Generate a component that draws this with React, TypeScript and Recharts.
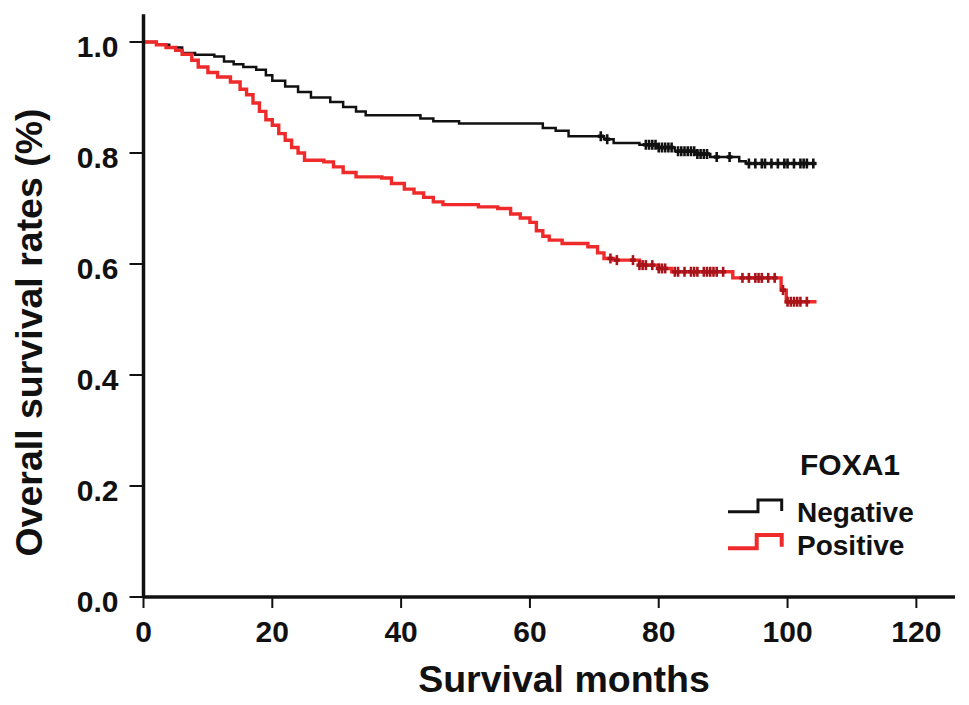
import React from 'react';
import { ComposedChart, Line, Scatter, XAxis, YAxis, Legend, Customized } from 'recharts';

const negTimes = [0, 2, 4, 6, 8, 11, 12.5, 14, 15.5, 17.5, 19, 20, 22, 24, 26, 29, 31, 33, 34.5, 43, 45, 49, 62, 64, 66, 71.5, 73, 77, 80, 82.5, 86, 88, 92.5, 93.5, 104.5];
const negSurv = [1.0, 0.995, 0.99, 0.98, 0.977, 0.974, 0.965, 0.96, 0.955, 0.95, 0.94, 0.93, 0.92, 0.91, 0.9, 0.892, 0.883, 0.875, 0.868, 0.862, 0.857, 0.853, 0.845, 0.84, 0.83, 0.825, 0.818, 0.815, 0.81, 0.803, 0.798, 0.793, 0.785, 0.781, 0.781];

const posTimes = [0, 2, 3.5, 5, 6, 7.5, 8.5, 10, 11.5, 13.5, 15, 16, 17, 18, 19, 20, 21, 22, 23, 24, 25, 28, 29.5, 31, 33, 37, 38.5, 40.5, 42, 43.5, 45, 46.5, 52, 55, 57, 58.5, 60, 61, 62, 63, 65, 69, 70.5, 71.5, 73, 77, 80, 82, 91.5, 99, 99.8, 104.5];
const posSurv = [1.0, 0.995, 0.99, 0.985, 0.978, 0.967, 0.955, 0.945, 0.937, 0.928, 0.915, 0.905, 0.89, 0.875, 0.86, 0.85, 0.835, 0.823, 0.81, 0.8, 0.787, 0.784, 0.775, 0.765, 0.757, 0.755, 0.745, 0.735, 0.728, 0.72, 0.712, 0.707, 0.703, 0.7, 0.69, 0.683, 0.675, 0.66, 0.65, 0.643, 0.637, 0.631, 0.62, 0.61, 0.607, 0.598, 0.592, 0.586, 0.575, 0.553, 0.532, 0.532];

const negCensor = [71, 72, 78, 78.5, 79, 79.5, 80, 80.5, 81, 81.5, 82, 83, 83.5, 84, 84.5, 85, 85.5, 86, 86.5, 87, 87.5, 89, 91, 94, 95, 96, 96.5, 97.5, 98.5, 99.5, 100, 101, 102, 102.5, 103, 104];
const posCensor = [72.5, 73.5, 76, 77, 77.5, 78, 79, 80, 80.5, 81, 82.5, 83, 84, 85, 85.5, 86, 87, 87.5, 88, 88.5, 89, 90, 93, 94, 95, 95.5, 96, 97, 98, 99.3, 100, 100.5, 101, 101.5, 102, 103];

const xTicks = [0, 20, 40, 60, 80, 100, 120];
const yTicks = [0, 0.2, 0.4, 0.6, 0.8, 1.0];

const seriesNames = ['Negative', 'Positive'];
const legendTitle = 'FOXA1';
const xTitle = 'Survival months';
const yTitle = 'Overall survival rates (%)';

const FONT = '"Liberation Sans", Arial, Helvetica, sans-serif';
const NEG_COLOR = '#111111';
const POS_COLOR = '#ee2a2a';
const POS_CENSOR = '#a8141a';

function stepAt(times: number[], surv: number[], t: number): number {
  let v = surv[0];
  for (let i = 0; i < times.length; i++) {
    if (times[i] <= t) v = surv[i];
  }
  return v;
}

const negData = negTimes.map((t, i) => ({ t, s: negSurv[i] }));
const posData = posTimes.map((t, i) => ({ t, s: posSurv[i] }));
const negCensorData = negCensor.map((t) => ({ t, s: stepAt(negTimes, negSurv, t) }));
const posCensorData = posCensor.map((t) => ({ t, s: stepAt(posTimes, posSurv, t) }));

const censorShape = (color: string) => (props: any) => {
  const { cx, cy } = props;
  if (cx == null || cy == null) return <g />;
  return (
    <g>
      <line x1={cx} x2={cx} y1={cy - 5} y2={cy + 5} stroke={color} strokeWidth={2.6} />
      <line x1={cx - 3} x2={cx + 3} y1={cy} y2={cy} stroke={color} strokeWidth={3.5} />
    </g>
  );
};

const XTick = (props: any) => {
  const { x, y, payload } = props;
  return (
    <text x={x} y={y + 21.5} textAnchor="middle" fontFamily={FONT} fontWeight="bold" fontSize={30} fill="#111">
      {payload.value}
    </text>
  );
};

const YTick = (props: any) => {
  const { x, y, payload } = props;
  return (
    <text x={x} y={y + 15} textAnchor="end" fontFamily={FONT} fontWeight="bold" fontSize={30} fill="#111">
      {Number(payload.value).toFixed(1)}
    </text>
  );
};

const Titles = () => (
  <g>
    <text x={564} y={691.5} textAnchor="middle" fontFamily={FONT} fontWeight="bold" fontSize={37.5} fill="#111">
      {xTitle}
    </text>
    <text
      x={0}
      y={0}
      transform="translate(42,332.5) rotate(-90)"
      textAnchor="middle"
      fontFamily={FONT}
      fontWeight="bold"
      fontSize={37.5}
      fill="#111"
    >
      {yTitle}
    </text>
  </g>
);

const LegendContent = () => (
  <svg width={220} height={130} style={{ display: 'block', overflow: 'visible' }}>
    <text x={80} y={35} fontFamily={FONT} fontWeight="bold" fontSize={30} fill="#111">
      {legendTitle}
    </text>
    <polyline
      points="8,71.7 38,71.7 38,60 61.7,60 61.7,71"
      fill="none"
      stroke={NEG_COLOR}
      strokeWidth={3}
    />
    <text x={77} y={81.5} fontFamily={FONT} fontWeight="bold" fontSize={28} fill="#111">
      {seriesNames[0]}
    </text>
    <polyline
      points="8,108.3 36.7,108.3 36.7,95 61.7,95 61.7,106.7"
      fill="none"
      stroke={POS_COLOR}
      strokeWidth={4}
    />
    <text x={77} y={115} fontFamily={FONT} fontWeight="bold" fontSize={28} fill="#111">
      {seriesNames[1]}
    </text>
  </svg>
);

export default function App() {
  return (
    <div style={{ position: 'absolute', left: 0, top: 0, width: 969, height: 705, background: '#fff' }}>
      <ComposedChart
        width={969}
        height={705}
        margin={{ top: 14.25, right: 14, bottom: 48, left: 43.5 }}
      >
        <XAxis
          type="number"
          dataKey="t"
          domain={[0, 126]}
          ticks={xTicks}
          allowDataOverflow
          height={60}
          stroke="#111"
          axisLine={{ stroke: '#111', strokeWidth: 3.5 }}
          tickLine={{ stroke: '#111', strokeWidth: 2 }}
          tickSize={11}
          tickMargin={12}
          tick={<XTick />}
          interval={0}
        />
        <YAxis
          type="number"
          dataKey="s"
          domain={[0, 1.05]}
          ticks={yTicks}
          allowDataOverflow
          width={100}
          stroke="#111"
          axisLine={{ stroke: '#111', strokeWidth: 3.5 }}
          tickLine={{ stroke: '#111', strokeWidth: 2 }}
          tickSize={14}
          tickMargin={11}
          tick={<YTick />}
          interval={0}
        />
        <Line
          data={negData}
          dataKey="s"
          type="stepAfter"
          stroke={NEG_COLOR}
          strokeWidth={2.5}
          dot={false}
          activeDot={false}
          isAnimationActive={false}
          name={seriesNames[0]}
        />
        <Line
          data={posData}
          dataKey="s"
          type="stepAfter"
          stroke={POS_COLOR}
          strokeWidth={3.4}
          dot={false}
          activeDot={false}
          isAnimationActive={false}
          name={seriesNames[1]}
        />
        <Scatter
          data={negCensorData}
          dataKey="s"
          shape={censorShape(NEG_COLOR)}
          isAnimationActive={false}
          legendType="none"
        />
        <Scatter
          data={posCensorData}
          dataKey="s"
          shape={censorShape(POS_CENSOR)}
          isAnimationActive={false}
          legendType="none"
        />
        <Legend
          layout="horizontal"
          verticalAlign="middle"
          align="center"
          content={<LegendContent />}
          wrapperStyle={{ position: 'absolute', left: 720, top: 440, width: 220, height: 130 }}
        />
        <Customized component={<Titles />} />
      </ComposedChart>
    </div>
  );
}
